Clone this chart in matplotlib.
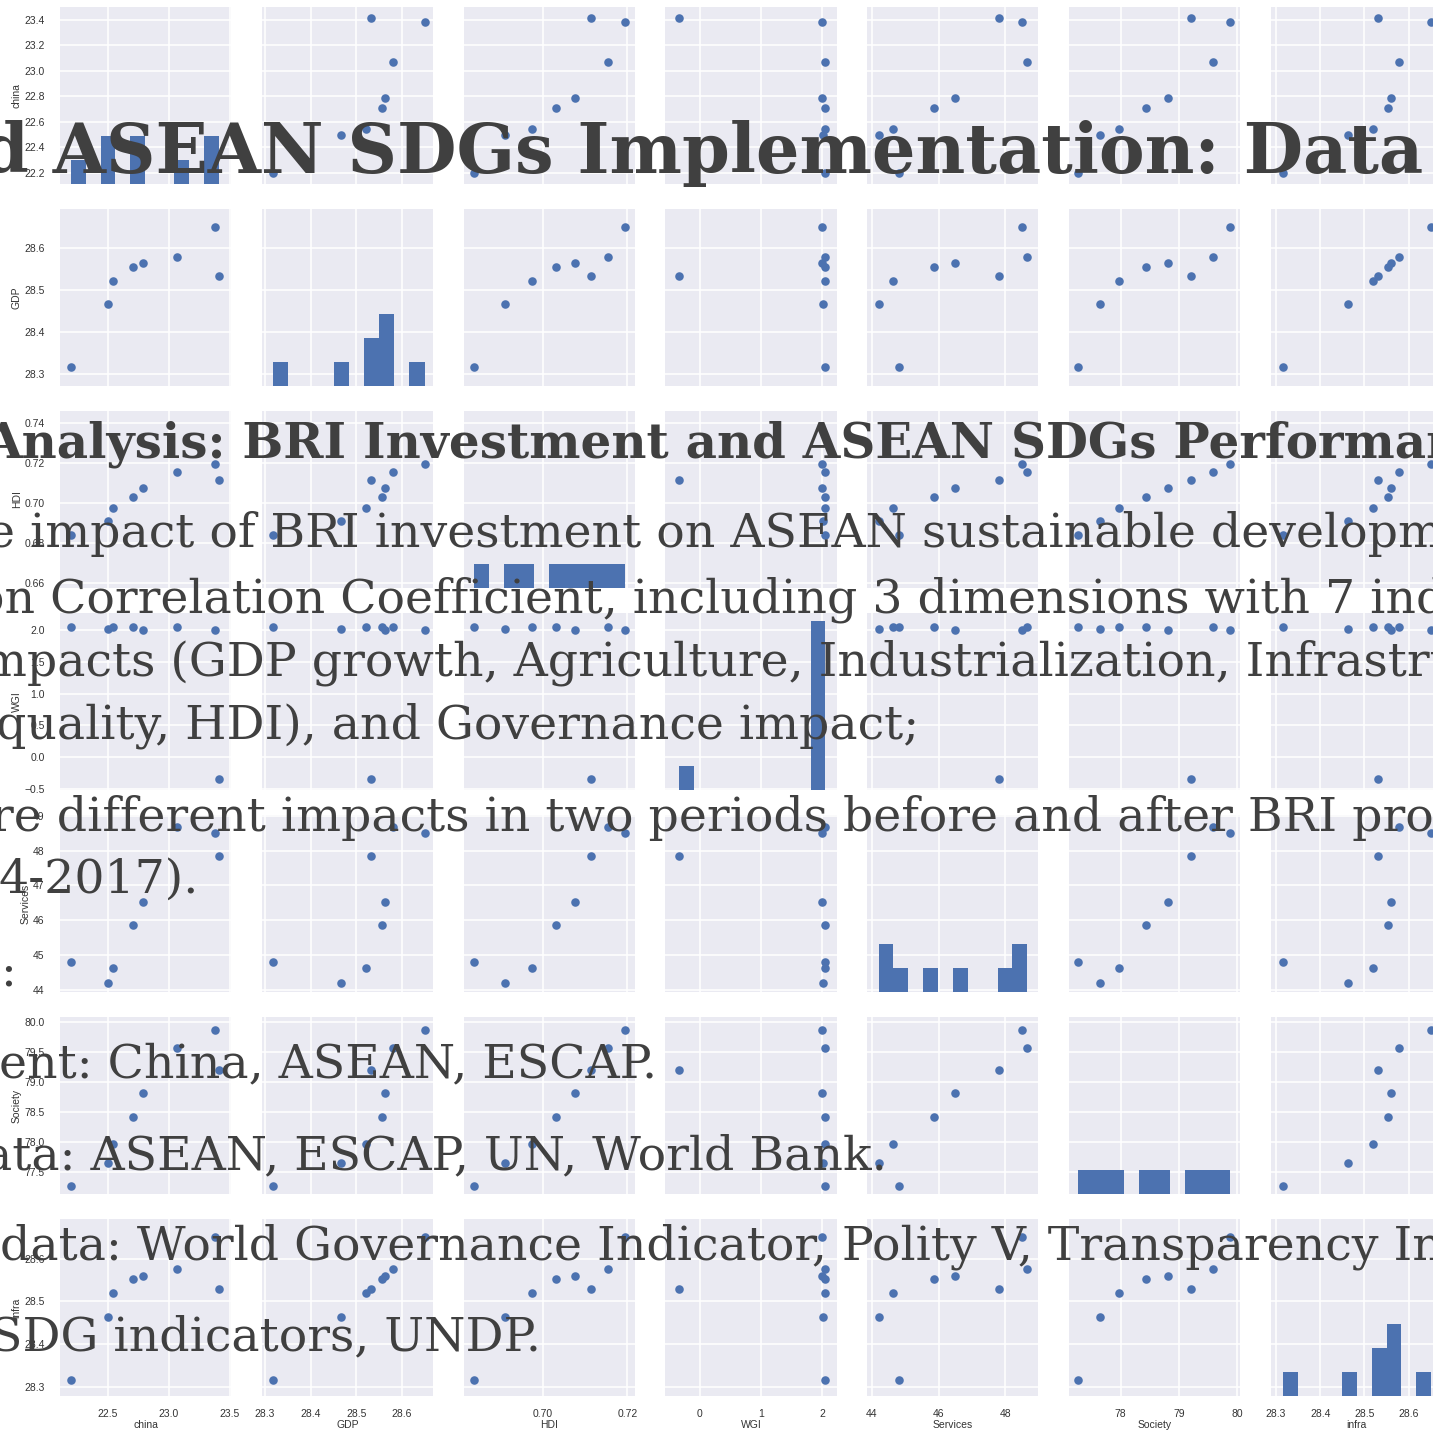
import matplotlib
matplotlib.use("Agg")
import matplotlib.pyplot as plt

names = ["china", "GDP", "HDI", "WGI", "Services", "Society", "infra"]
china = [22.20, 22.50, 22.54, 22.71, 22.79, 23.07, 23.38, 23.41]
gdp = [28.317, 28.467, 28.521, 28.556, 28.564, 28.580, 28.650, 28.533]
hdi = [0.6838, 0.6910, 0.6975, 0.7030, 0.7076, 0.7155, 0.7193, 0.7114]
wgi = [2.05, 2.01, 2.05, 2.05, 2.00, 2.05, 2.00, -0.34]
services = [44.80, 44.20, 44.62, 45.87, 46.51, 48.67, 48.50, 47.83]
society = [77.28, 77.65, 77.97, 78.43, 78.82, 79.58, 79.88, 79.21]
infra = [28.317, 28.463, 28.520, 28.553, 28.560, 28.577, 28.650, 28.530]
data = [china, gdp, hdi, wgi, services, society, infra]

xlims = [(22.11, 23.51), (28.293, 28.668), (0.6813, 0.7217), (-0.56, 2.23),
         (43.86, 49.0), (77.12, 80.05), (28.289, 28.675)]
ylims = [(22.113, 23.499), (28.272, 28.693), (0.6573, 0.746), (-0.52, 2.27),
         (43.94, 49.02), (77.14, 80.09), (28.279, 28.693)]
xticks = [[22.5, 23.0, 23.5], [28.3, 28.4, 28.5, 28.6], [0.70, 0.72], [0, 1, 2],
          [44, 46, 48], [78, 79, 80], [28.3, 28.4, 28.5, 28.6]]
yticks = [[22.2, 22.4, 22.6, 22.8, 23.0, 23.2, 23.4], [28.3, 28.4, 28.5, 28.6],
          [0.66, 0.68, 0.70, 0.72, 0.74], [-0.5, 0.0, 0.5, 1.0, 1.5, 2.0],
          [44, 45, 46, 47, 48, 49], [77.5, 78.0, 78.5, 79.0, 79.5, 80.0],
          [28.3, 28.4, 28.5, 28.6]]

# slide text laid over the chart
title1 = "d ASEAN SDGs Implementation: Data"
title2 = "Analysis: BRI Investment and ASEAN SDGs Performance"
body = [
    ("e impact of BRI investment on ASEAN sustainable development", "BRI", 270, 547),
    ("on Correlation Coefficient, including 3 dimensions with 7 indicators", "Correlation", 50, 612),
    ("mpacts (GDP growth, Agriculture, Industrialization, Infrastructure),", "mpacts", -18, 676),
    ("quality, HDI), and Governance impact;", "quality", -4, 739),
    ("re different impacts in two periods before and after BRI proposal", "different", 57, 831),
    ("4-2017).", "2017", 45, 893),
    (":", ":", 0, 985),
    ("ent: China, ASEAN, ESCAP.", "China", 108, 1077),
    ("ata: ASEAN, ESCAP, UN, World Bank.", "ASEAN", 90, 1169),
    ("data: World Governance Indicator, Polity V, Transparency International", "World", 137, 1259),
    ("SDG indicators, UNDP.", "indicators", 113, 1350),
]

W, H = 1433, 1440
blue = "#4C72B0"
ink = "#404040"
plt.rcParams["font.family"] = ["Liberation Sans", "DejaVu Sans"]

fig, axes = plt.subplots(7, 7, figsize=(W / 100, H / 100), dpi=100)
fig.subplots_adjust(left=60 / W, right=1442 / W, top=1 - 7 / H, bottom=1 - 1396 / H,
                    wspace=0.18, hspace=0.141)

n = len(names)
for i in range(n):
    for j in range(n):
        ax = axes[i, j]
        ax.set_facecolor("#EAEAF2")
        for s in ax.spines.values():
            s.set_visible(False)
        ax.grid(True, color="white", linewidth=1.1)
        ax.set_axisbelow(True)
        if i != j:
            ax.scatter(data[j], data[i], s=38, color=blue, linewidths=0, zorder=3)
        ax.set_xlim(xlims[j])
        ax.set_ylim(ylims[i])
        ax.set_xticks(xticks[j])
        ax.set_yticks(yticks[i])
        ax.ticklabel_format(useOffset=False)
        ax.tick_params(length=0, labelsize=7.5, colors="#333333")
        ax.tick_params(axis="y", pad=11)
        ax.tick_params(axis="x", pad=9)
        if i < n - 1:
            ax.tick_params(labelbottom=False)
        else:
            ax.set_xlabel(names[j], fontsize=7.5, color="#333333", labelpad=1)
        if j > 0:
            ax.tick_params(labelleft=False)
        else:
            ax.set_ylabel(names[i], fontsize=7.5, color="#333333", labelpad=2)

# histograms on the diagonal, twin axes sharing one count scale
for i in range(n):
    ax = axes[i, i]
    tw = ax.twinx()
    tw.hist(data[i], bins=10, color=blue, zorder=3)
    tw.set_axis_off()
    tw.set_ylim(0, 7.35)
    ax.set_xlim(xlims[i])

renderer = fig.canvas.get_renderer()


def width(s, size, weight):
    t = fig.text(0, 0, s, fontsize=size, fontweight=weight, family="DejaVu Serif")
    w = t.get_window_extent(renderer).width
    t.remove()
    return w


def put(text, anchor, x_anchor, y_base, size, weight="normal"):
    k = text.index(anchor)
    pre = width(text[:k + len(anchor)], size, weight) - width(anchor, size, weight) if k else 0
    fig.text((x_anchor - pre) / W, 1 - y_base / H, text, fontsize=size, fontweight=weight,
             family="DejaVu Serif", color=ink, va="baseline", zorder=10)


# font sizes fitted to reference spans measured on the picture
s1 = 40 * 1370 / width("ASEAN SDGs Implementation: Data", 40, "bold")
s2 = 30 * 914 / width("BRI Investment and ASEAN SDGs", 30, "bold")
s3 = 30 * 798 / width("ASEAN, ESCAP, UN, World Bank.", 30, "normal")

put(title1, "ASEAN", 53, 173, s1, "bold")
put(title2, "BRI", 243, 457, s2, "bold")
for text, anchor, xa, yb in body:
    put(text, anchor, xa, yb, s3)

fig.savefig("out.png", dpi=100)
